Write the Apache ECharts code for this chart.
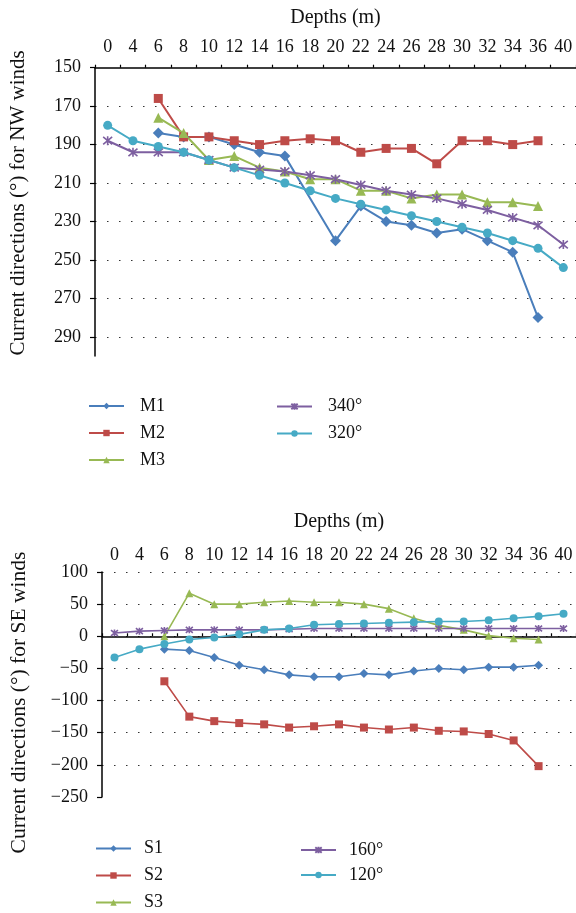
<!DOCTYPE html>
<html>
<head>
<meta charset="utf-8">
<script src="https://cdn.jsdelivr.net/npm/echarts@6/dist/echarts.min.js"></script>
<style>
html,body{margin:0;padding:0;background:#fff;}
#c{width:576px;height:913px;}
</style>
</head>
<body>
<div id="c"></div>
<script>
// ---- data ----
const depths = ['0','4','6','8','10','12','14','16','18','20','22','24','26','28','30','32','34','36','40'];

// NW winds (top chart)
const M1   = [null,null,184,186,186,190,194,196,null,240,222,230,232,236,234,240,246,280,null];
const M2   = [null,null,166,186,186,188,190,188,187,188,194,192,192,200,188,188,190,188,null];
const M3   = [null,null,176,184,198,196,202,204,208,208,214,214,218,216,216,220,220,222,null];
const NW340 = [188,194,194,194,198,202,203,204,206,208,211,214,216,218,221,224,228,232,242];
const NW320 = [180,188,191,194,198,202,206,210,214,218,221,224,227,230,233,236,240,244,254];
const nwTicks = [150,170,190,210,230,250,270,290];

// SE winds (bottom chart)
const S1   = [null,null,-20,-22,-33,-45,-52,-60,-63,-63,-58,-60,-54,-50,-52,-48,-48,-45,null];
const S2   = [null,null,-70,-125,-132,-135,-137,-142,-140,-137,-142,-145,-142,-147,-148,-152,-162,-202,null];
const S3   = [null,null,0,67,50,50,53,55,53,53,50,43,28,17,10,1,-3,-5,null];
const SE160 = [5,8,9,10,10,10,10,11,12,12,12,12,12,12,12,12,12,12,12];
const SE120 = [-33,-20,-12,-5,-2,3,10,12,18,19,20,21,22,23,23,25,28,31,35];
const seTicks = [100,50,0,-50,-100,-150,-200,-250];

// ---- styles ----
const FONT = '"Liberation Serif", "DejaVu Serif", serif';
const C = {blue:'#4A7EBB', red:'#BE4B48', green:'#98B954', purple:'#7D5FA0', cyan:'#46AAC5'};
const STAR = 'path://M0,0L10,10M10,0L0,10M5,-1L5,11';

function mk(name, data, color, symbol, size, idx, lw){
  return {
    name: name, type:'line', data: data, xAxisIndex: idx, yAxisIndex: idx,
    connectNulls: true, symbol: symbol, symbolSize: size, showSymbol: true,
    lineStyle:{color:color, width: lw},
    itemStyle:{color: symbol===STAR ? 'rgba(0,0,0,0)' : color, borderColor: color, borderWidth: symbol===STAR ? 1.6 : 0},
    emphasis:{disabled:true}, animation:false, z: 3
  };
}

const xAxisCommon = (gi) => ({
  type:'category', data: depths, gridIndex: gi, position:'top', boundaryGap:true,
  name:'Depths (m)', nameLocation:'middle', nameGap: gi===0 ? 40 : 40, nameMoveOverlap:false,
  nameTextStyle:{fontFamily:FONT, fontSize:20, color:'#111'},
  axisLine:{show:true, lineStyle:{color:'#000', width:1.5}},
  axisTick:{show:true, length:3, inside:false, alignWithLabel:false, lineStyle:{color:'#000', width:1.2}},
  axisLabel:{interval:0, margin: gi===0 ? 11 : 8, fontFamily:FONT, fontSize:18, color:'#111'},
  splitLine:{show:false}
});

const legText = (pl) => ({fontFamily:FONT, fontSize:18, color:'#111', lineHeight:18, padding:[0,0,0,pl]});

const option = {
  backgroundColor:'#fff',
  animation:false,
  grid:[
    {left:88, top:67.7, width:488, height:288.3, containLabel:false},
    {left:94, top:572, width:485.6, height:225, containLabel:false}
  ],
  xAxis:[ xAxisCommon(0), xAxisCommon(1) ],
  yAxis:[
    {type:'value', gridIndex:0, inverse:true, min:150, max:300, interval:20,
     name:'Current directions (°) for NW winds', nameLocation:'middle', nameGap:66, nameRotate:90, nameMoveOverlap:false,
     nameTextStyle:{fontFamily:FONT, fontSize:21, color:'#111', padding:[0,0,0,18]},
     axisLine:{show:true, lineStyle:{color:'#000', width:1.5}},
     axisTick:{show:true, length:5, lineStyle:{color:'#000', width:1.2}, customValues: nwTicks},
     axisLabel:{margin:14, fontFamily:FONT, fontSize:18, color:'#111', customValues: nwTicks},
     splitLine:{show:true, showMinLine:false, showMaxLine:true, lineStyle:{color:'#333', width:1.2, type:[1.5,10.5]}}},
    {type:'value', gridIndex:1, min:-250, max:100, interval:50,
     name:'Current directions (°) for SE winds', nameLocation:'middle', nameGap:72, nameRotate:90, nameMoveOverlap:false,
     nameTextStyle:{fontFamily:FONT, fontSize:21.5, color:'#111', padding:[0,36,0,0]},
     axisLine:{show:true, lineStyle:{color:'#000', width:1.5}},
     axisTick:{show:true, length:5, lineStyle:{color:'#000', width:1.2}, customValues: seTicks},
     axisLabel:{margin:14, fontFamily:FONT, fontSize:18, color:'#111', customValues: seTicks,
       formatter: v => String(v).replace('-', '\u2212')},
     splitLine:{show:true, showMinLine:true, showMaxLine:false, lineStyle:{color:'#333', width:1.2, type:[1.5,10.5]}}}
  ],
  legend:[
    {data:['M1','M2','M3'], orient:'vertical', left:88, top:397, height:100, padding:0, itemWidth:35, itemHeight:8, itemGap:9,
     textStyle:legText(11), selectedMode:false},
    {data:['340°','320°'], orient:'vertical', left:276, top:397.5, height:100, padding:0, itemWidth:35, itemHeight:8, itemGap:9,
     textStyle:legText(11), selectedMode:false},
    {data:['S1','S2','S3'], orient:'vertical', left:95, top:839.5, height:74, padding:0, itemWidth:35, itemHeight:8, itemGap:9,
     textStyle:legText(8), selectedMode:false},
    {data:['160°','120°'], orient:'vertical', left:300, top:841, height:72, padding:0, itemWidth:35, itemHeight:8, itemGap:7,
     textStyle:legText(8), selectedMode:false}
  ],
  series:[
    mk('M1', M1, C.blue, 'diamond', 11, 0, 2),
    mk('M2', M2, C.red, 'rect', 9, 0, 2),
    mk('M3', M3, C.green, 'triangle', 10, 0, 2),
    mk('340°', NW340, C.purple, STAR, 9, 0, 2),
    mk('320°', NW320, C.cyan, 'circle', 9, 0, 2),
    mk('S1', S1, C.blue, 'diamond', 9, 1, 1.6),
    mk('S2', S2, C.red, 'rect', 8, 1, 1.6),
    mk('S3', S3, C.green, 'triangle', 8, 1, 1.6),
    mk('160°', SE160, C.purple, STAR, 7, 1, 1.6),
    mk('120°', SE120, C.cyan, 'circle', 8, 1, 1.6)
  ]
};

const chart = echarts.init(document.getElementById('c'), null, {renderer:'canvas'});
chart.setOption(option);
</script>
</body>
</html>
